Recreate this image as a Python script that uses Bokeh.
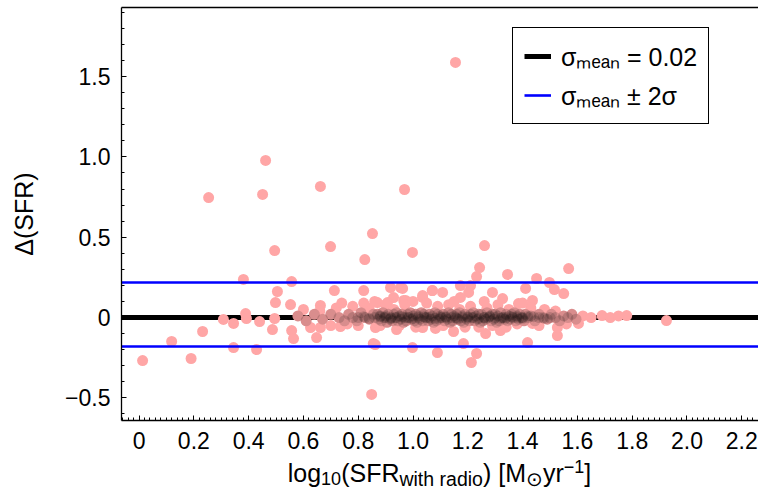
from bokeh.plotting import figure
from bokeh.layouts import column
from bokeh.models import (Legend, LegendItem, Range1d, SingleIntervalTicker, FixedTicker, LinearAxis, Div)
from bokeh.embed import file_html
from bokeh.resources import INLINE

# ---------------- data ----------------
# galaxies away from the dense core (drawn pink)
x_sparse = [1.155, 0.462, 0.451, 0.254, 0.662, 0.969, 0.495, 0.699, 0.852, 0.824, 0.998, 1.261,
            0.381, 0.557, 0.505, 0.713, 0.820, 0.498, 0.553,
            0.389, 0.392, 0.308, 0.345, 0.440, 0.495, 0.487, 0.557, 0.564, 0.232, 0.119, 0.345,
            0.429, 0.648, 0.013, 0.190, 0.849, 0.855, 0.862, 0.998, 1.089,
            0.662, 0.918, 0.955, 0.929, 0.870, 0.907, 0.966, 1.035, 1.070,
            0.940, 0.735, 0.626, 0.662, 0.863, 1.035,
            1.243, 1.232, 1.345, 1.568, 1.451, 1.498, 1.173, 1.210, 0.962, 1.411, 1.516, 1.550,
            1.290, 1.071, 1.108, 1.327, 1.436, 1.385, 0.973, 1.035, 1.173, 1.203,
            1.213, 1.232, 1.184, 1.418, 1.527, 1.265, 1.148, 1.319, 1.027, 1.082, 1.436, 1.527,
            1.604, 1.925,
            0.60, 0.66, 0.72, 0.78, 0.80, 0.84, 0.88, 0.90, 0.93, 0.97, 1.01, 1.05, 1.09, 1.13,
            1.17, 1.19, 1.21, 1.27, 1.29, 1.31, 1.35, 1.38, 1.43, 1.48, 1.52, 1.56, 0.70, 0.76,
            0.95, 1.11, 1.24, 1.34, 1.46, 0.74, 0.82, 0.86, 1.00, 1.15, 1.26, 1.40,
            1.62, 1.65, 1.69, 1.72, 1.75, 1.78]
y_sparse = [1.588, 0.978, 0.766, 0.747, 0.816, 0.797, 0.417, 0.442, 0.523, 0.361, 0.405, 0.448,
            0.237, 0.224, 0.162, 0.168, 0.168, 0.093, 0.081,
            0.025, -0.006, -0.012, -0.037, -0.025, -0.006, -0.075, -0.081, -0.131, -0.087, -0.149, -0.187,
            -0.199, -0.125, -0.268, -0.255, -0.479, -0.162, -0.168, -0.187, -0.218,
            0.075, 0.187, 0.187, 0.124, 0.093, 0.093, 0.106, 0.125, 0.168,
            -0.075, -0.056, -0.062, -0.062, -0.062, -0.062,
            0.311, 0.255, 0.268, 0.305, 0.243, 0.218, 0.199, 0.199, 0.181, 0.181, 0.174, 0.149,
            0.156, 0.168, 0.156, 0.118, 0.106, 0.087, 0.106, 0.137, 0.125, 0.156,
            -0.280, -0.224, -0.162, -0.156, -0.112, -0.100, -0.087, -0.081, -0.050, -0.068, -0.037, -0.062,
            -0.037, -0.019,
            0.05, 0.04, 0.06, 0.07, -0.05, 0.06, -0.05, 0.08, 0.05, 0.08, -0.06, 0.09, 0.07, 0.08,
            0.05, -0.06, 0.07, 0.06, -0.05, 0.08, 0.05, -0.04, 0.06, 0.05, 0.04, -0.04, -0.05, -0.04,
            -0.05, -0.05, -0.06, -0.06, -0.05, 0.09, 0.09, 0.10, 0.10, 0.10, 0.10, 0.09,
            0.01, 0.00, 0.012, 0.00, 0.01, 0.012]

# galaxies in the dense core around zero difference
x_core = [0.58, 0.61, 0.64, 0.67, 0.70, 0.73,
          0.75, 0.765, 0.78, 0.795, 0.81, 0.825, 0.84, 0.855,
          0.87, 0.88, 0.89, 0.90, 0.91, 0.92, 0.93, 0.94, 0.95, 0.96, 0.97, 0.98, 0.99, 1.00,
          1.01, 1.02, 1.03, 1.04, 1.05, 1.06, 1.07, 1.08, 1.09, 1.10, 1.11, 1.12, 1.13, 1.14,
          1.15, 1.16, 1.17, 1.18, 1.19, 1.20, 1.21, 1.22, 1.23, 1.24, 1.25, 1.26, 1.27, 1.28,
          1.29, 1.30, 1.31, 1.32, 1.33, 1.34, 1.35, 1.36, 1.37, 1.38, 1.39, 1.40, 1.41, 1.42,
          0.875, 0.885, 0.895, 0.905, 0.915, 0.925, 0.935, 0.945, 0.955, 0.965, 0.975, 0.985,
          0.995, 1.005, 1.015, 1.025, 1.035, 1.045, 1.055, 1.065, 1.075, 1.085, 1.095, 1.105,
          1.115, 1.125, 1.135, 1.145, 1.155, 1.165, 1.175, 1.185, 1.195, 1.205, 1.215, 1.225,
          1.235, 1.245, 1.255, 1.265, 1.275, 1.285, 1.295, 1.305, 1.315, 1.325, 1.335, 1.345,
          1.355, 1.365, 1.375, 1.385, 1.395, 1.405,
          1.43, 1.445, 1.46, 1.475, 1.49, 1.505, 1.52, 1.535, 1.55, 1.565, 1.58, 1.595,
          0.80, 0.82, 0.84, 0.86, 0.88, 0.90, 0.92, 0.94, 0.96, 0.98, 1.00, 1.02, 1.04, 1.06,
          1.08, 1.10, 1.12, 1.14, 1.16, 1.18, 1.20, 1.22, 1.24, 1.26, 1.28, 1.30, 1.32, 1.34,
          1.36, 1.38, 1.40, 1.42, 1.44, 1.46, 1.48, 1.50]
y_core = [0.01, -0.02, 0.02, -0.01, 0.02, 0.00,
          -0.02, 0.02, 0.00, -0.02, 0.03, 0.00, -0.01, 0.02,
          0.02, 0.01, 0.03, 0.01, 0.02, 0.00, 0.02, 0.03, 0.01, 0.02, 0.00, 0.02, 0.03, 0.01,
          0.02, 0.01, 0.03, 0.02, 0.00, 0.02, 0.01, 0.03, 0.02, 0.01, 0.02, 0.00, 0.03, 0.02,
          0.01, 0.02, 0.03, 0.01, 0.02, 0.00, 0.02, 0.03, 0.01, 0.02, 0.02, 0.00, 0.03, 0.01,
          0.02, 0.02, 0.01, 0.03, 0.00, 0.02, 0.01, 0.02, 0.03, 0.01, 0.02, 0.00, 0.02, 0.01,
          -0.01, -0.02, 0.00, -0.03, -0.01, -0.02, 0.00, -0.02, -0.01, -0.03, -0.02, 0.00,
          -0.01, -0.02, -0.03, -0.01, -0.02, 0.00, -0.02, -0.01, -0.03, -0.02, -0.01, 0.00,
          -0.02, -0.01, -0.03, -0.02, 0.00, -0.01, -0.02, -0.03, -0.01, -0.02, 0.00, -0.02,
          -0.01, -0.03, -0.02, -0.01, 0.00, -0.02, -0.01, -0.03, -0.02, 0.00, -0.01, -0.02,
          -0.01, 0.00, -0.02, -0.01, 0.00, -0.02,
          0.01, -0.02, 0.02, 0.00, -0.01, 0.02, 0.00, -0.02, 0.01, 0.00, 0.02, -0.01,
          0.00, 0.005, -0.005, 0.00, 0.005, 0.00, -0.005, 0.00, 0.005, 0.00, -0.005, 0.00, 0.005, 0.00,
          -0.005, 0.00, 0.005, 0.00, -0.005, 0.00, 0.005, 0.00, -0.005, 0.00, 0.005, 0.00, -0.005, 0.00,
          0.005, 0.00, -0.005, 0.00, 0.005, 0.00, -0.005, 0.00]

mean_level = 0.0
upper_level = 0.22
lower_level = -0.18
legend_labels = ["σₘₑₐₙ = 0.02", "σₘₑₐₙ ± 2σ"]
x_tick_labels = {0: "0", 0.2: "0.2", 0.4: "0.4", 0.6: "0.6", 0.8: "0.8", 1: "1.0", 1.2: "1.2",
                 1.4: "1.4", 1.6: "1.6", 1.8: "1.8", 2: "2.0", 2.2: "2.2"}
y_tick_labels = {-0.5: "−0.5", 0: "0", 0.5: "0.5", 1: "1.0", 1.5: "1.5"}
SUB = "font-size:{}%; vertical-align:-0.18em; line-height:0"
SUP = "font-size:72%; vertical-align:0.5em; line-height:0"
x_label_html = ("log<span style='" + SUB.format(72) + "'>10</span>(SFR<span style='"
                + SUB.format(78) + "'>with radio</span>) [M<span style='" + SUB.format(80)
                + "'>⊙</span>yr<span style='" + SUP + "'>−1</span>]")

FONT = "Liberation Sans"

p = figure(width=758, height=460, output_backend="svg", toolbar_location=None,
           x_range=Range1d(-0.064, 2.261), y_range=Range1d(-0.641, 1.930),
           min_border_left=121, min_border_right=0, min_border_top=7, min_border_bottom=40)
p.outline_line_color = None
p.xgrid.visible = False
p.ygrid.visible = False

# axes
p.xaxis.ticker = SingleIntervalTicker(interval=0.2, num_minor_ticks=10)
p.yaxis.ticker = SingleIntervalTicker(interval=0.5, num_minor_ticks=5)
p.xaxis.major_label_overrides = x_tick_labels
p.yaxis.major_label_overrides = y_tick_labels
for ax in (p.xaxis[0], p.yaxis[0]):
    ax.axis_line_color = "black"
    ax.axis_line_width = 1.3
    ax.major_tick_in = 5
    ax.major_tick_out = 0
    ax.minor_tick_in = 3
    ax.minor_tick_out = 0
    ax.major_tick_line_color = "black"
    ax.minor_tick_line_color = "black"
    ax.major_label_text_font = FONT
    ax.major_label_text_font_size = "23px"
    ax.major_label_text_color = "black"
    ax.major_label_standoff = 11
p.yaxis.axis_label = "Δ(SFR)"
p.yaxis.axis_label_text_font = FONT
p.yaxis.axis_label_text_font_size = "25px"
p.yaxis.axis_label_text_font_style = "normal"
p.yaxis.axis_label_text_color = "black"
p.yaxis.axis_label_standoff = 24

# top spine (axis without ticks or labels)
top_axis = LinearAxis(ticker=FixedTicker(ticks=[]), major_tick_in=0, major_tick_out=0,
                      minor_tick_in=0, minor_tick_out=0, major_label_standoff=0,
                      axis_line_color="black", axis_line_width=1.3)
p.add_layout(top_axis, "above")

# mean line (below the points)
r_mean = p.hspan(y=[mean_level], line_color="black", line_width=5)

# points: pink for all, then a faint dark layer for the dense core
p.scatter(x_sparse + x_core, y_sparse + y_core, size=11, fill_color="#ffa6a6", fill_alpha=1.0,
          line_color=None)
p.scatter(x_core, y_core, size=11, fill_color="black", fill_alpha=0.15, line_color=None)

# +/- 2 sigma lines on top
r_sig = p.hspan(y=[upper_level, lower_level], line_color="#0000ff", line_width=2.6)

legend = Legend(items=[LegendItem(label=legend_labels[0], renderers=[r_mean]),
                       LegendItem(label=legend_labels[1], renderers=[r_sig])],
                location=(391, 296), label_text_font=FONT, label_text_font_size="25px",
                label_text_color="black",
                glyph_width=27, glyph_height=20, label_standoff=10, padding=11, spacing=5,
                label_height=30, margin=0, border_line_color="black", border_line_width=1,
                border_line_alpha=1.0, background_fill_alpha=1.0)
p.add_layout(legend)

xlabel = Div(text=x_label_html, width=637, height=34, margin=(0, 0, 0, 121),
             styles={"text-align": "center", "color": "black", "font-family": "Liberation Sans",
                     "font-size": "25px", "line-height": "26px", "width": "637px",
                     "padding-top": "0px"})

layout = column(p, xlabel, spacing=0)
open("out.html", "w").write(file_html(layout, INLINE))
